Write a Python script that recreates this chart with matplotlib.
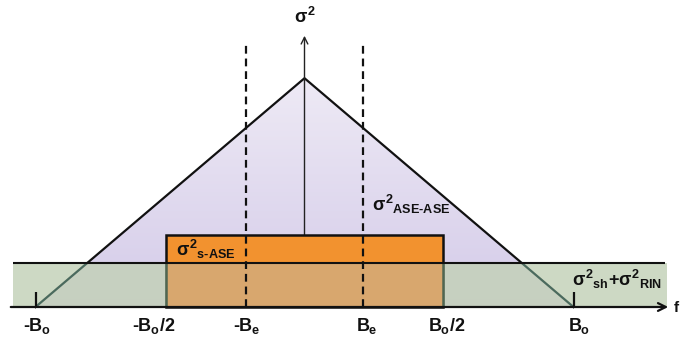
import numpy as np
import matplotlib.pyplot as plt
from matplotlib.patches import Polygon, Rectangle

plt.rcParams['font.family'] = 'Liberation Sans'
plt.rcParams['mathtext.fontset'] = 'custom'
plt.rcParams['mathtext.rm'] = 'Liberation Sans:bold'
plt.rcParams['mathtext.it'] = 'Liberation Sans:bold'
plt.rcParams['mathtext.bf'] = 'Liberation Sans:bold'

# frequency axis, in units of Bo (as drawn in the sketch)
tick_pos = [-1.0, -0.515, -0.216, 0.216, 0.515, 1.0]
tick_labels = [r'$\text{-}B_o$', r'$\text{-}B_o/2$', r'$\text{-}B_e$',
               r'$B_e$', r'$B_o/2$', r'$B_o$']
be = 0.216

# noise variance levels (floor = 1)
ase_f = [-1.0, 0.0, 1.0]
ase_var = [0.0, 5.2, 0.0]
sase_f = [-0.515, 0.515]
sase_var = 1.64
floor_var = 1.0

# pixel -> data mapping of the original picture
x0, xs = 304.5, 269.0
y0, ys = 307.0, 44.0


def px(x):
    return (x - x0) / xs


def py(y):
    return (y0 - y) / ys


fig = plt.figure(figsize=(6.8, 3.42), dpi=100)
ax = fig.add_axes([0, 0, 1, 1])
ax.set_xlim(px(0), px(680))
ax.set_ylim(py(342), py(0))
ax.axis('off')

# ASE-ASE triangle with light purple gradient
tri = Polygon(list(zip(ase_f, ase_var)), closed=True, fc='none', ec='none')
ax.add_patch(tri)
top = np.array([238, 234, 245]) / 255
bot = np.array([212, 203, 233]) / 255
t = np.linspace(0, 1, 200)[:, None]
grad = (top * (1 - t) + bot * t)[:, None, :]
im = ax.imshow(grad, extent=[ase_f[0], ase_f[-1], 0, max(ase_var)],
               aspect='auto', zorder=1, interpolation='bilinear')
im.set_clip_path(tri)
ax.plot(ase_f, ase_var, color='#111111', lw=1.6, zorder=2)

# vertical axis (hidden behind the s-ASE box)
ax.annotate('', xy=(0, py(33)), xytext=(0, 0),
            arrowprops=dict(arrowstyle='->', color='#222222', lw=1.0,
                            mutation_scale=12), zorder=2)

# s-ASE box
ax.add_patch(Rectangle((sase_f[0], 0), sase_f[1] - sase_f[0], sase_var,
                       fc='#F2922F', ec='#111111', lw=1.8, zorder=3))

# shot + RIN band
ax.add_patch(Rectangle((px(13), 0), px(667) - px(13), floor_var,
                       fc='#C3D1B7', alpha=0.82, ec='none', zorder=4))
ax.add_patch(Rectangle((sase_f[0], 0), sase_f[1] - sase_f[0], floor_var,
                       fc='#D8A76E', ec='none', zorder=5))
ax.vlines(sase_f, 0, floor_var, color='#4F6652', lw=1.8, zorder=6)
# ASE-ASE slopes seen through the band
cut = np.interp(floor_var, ase_var[:2], ase_f[:2])
ax.plot([ase_f[0], cut], [0, floor_var], color='#4A6A5E', lw=1.5, zorder=6)
ax.plot([ase_f[-1], -cut], [0, floor_var], color='#4A6A5E', lw=1.5, zorder=6)
ax.hlines(floor_var, px(13), px(665), color='#111111', lw=1.5, zorder=7)

# frequency axis
ax.annotate('', xy=(px(671), 0), xytext=(px(8), 0),
            arrowprops=dict(arrowstyle='->', color='#111111', lw=1.6,
                            mutation_scale=14), zorder=8)
ax.vlines([tick_pos[0], tick_pos[-1]], 0, py(292), color='#111111', lw=1.6,
          zorder=8)

# electrical bandwidth
ax.vlines([-be, be], 0, py(42), color='#111111', lw=1.6,
          linestyles=(0, (3.5, 2.2)), zorder=9)

# labels
nudge = [0.006, -0.044, 0.0, 0.017, 0.012, 0.02]
for p, lab, dn in zip(tick_pos, tick_labels, nudge):
    ax.text(p + dn, py(326), lab, ha='center', va='center', fontsize=13,
            color='#111111', zorder=10)
ax.text(px(673), 0, r'$f$', ha='left', va='center', fontsize=11,
        color='#111111', zorder=10)

ax.text(0, py(17), r'$\sigma^2$', ha='center', va='center', fontsize=13,
        color='#111111', zorder=10)
ax.text(px(372), py(204), r'$\sigma^2{}_{\text{ASE-ASE}}$', ha='left',
        va='center', fontsize=13, color='#111111', zorder=10)
ax.text(px(176), py(249), r'$\sigma^2{}_{\text{s-ASE}}$', ha='left',
        va='center', fontsize=13, color='#111111', zorder=10)
ax.text(px(572), py(279), r'$\sigma^2{}_{\text{sh}}\text{+}\sigma^2{}_{\text{RIN}}$',
        ha='left', va='center', fontsize=13, color='#111111', zorder=10)

fig.savefig('out.png', dpi=100)
